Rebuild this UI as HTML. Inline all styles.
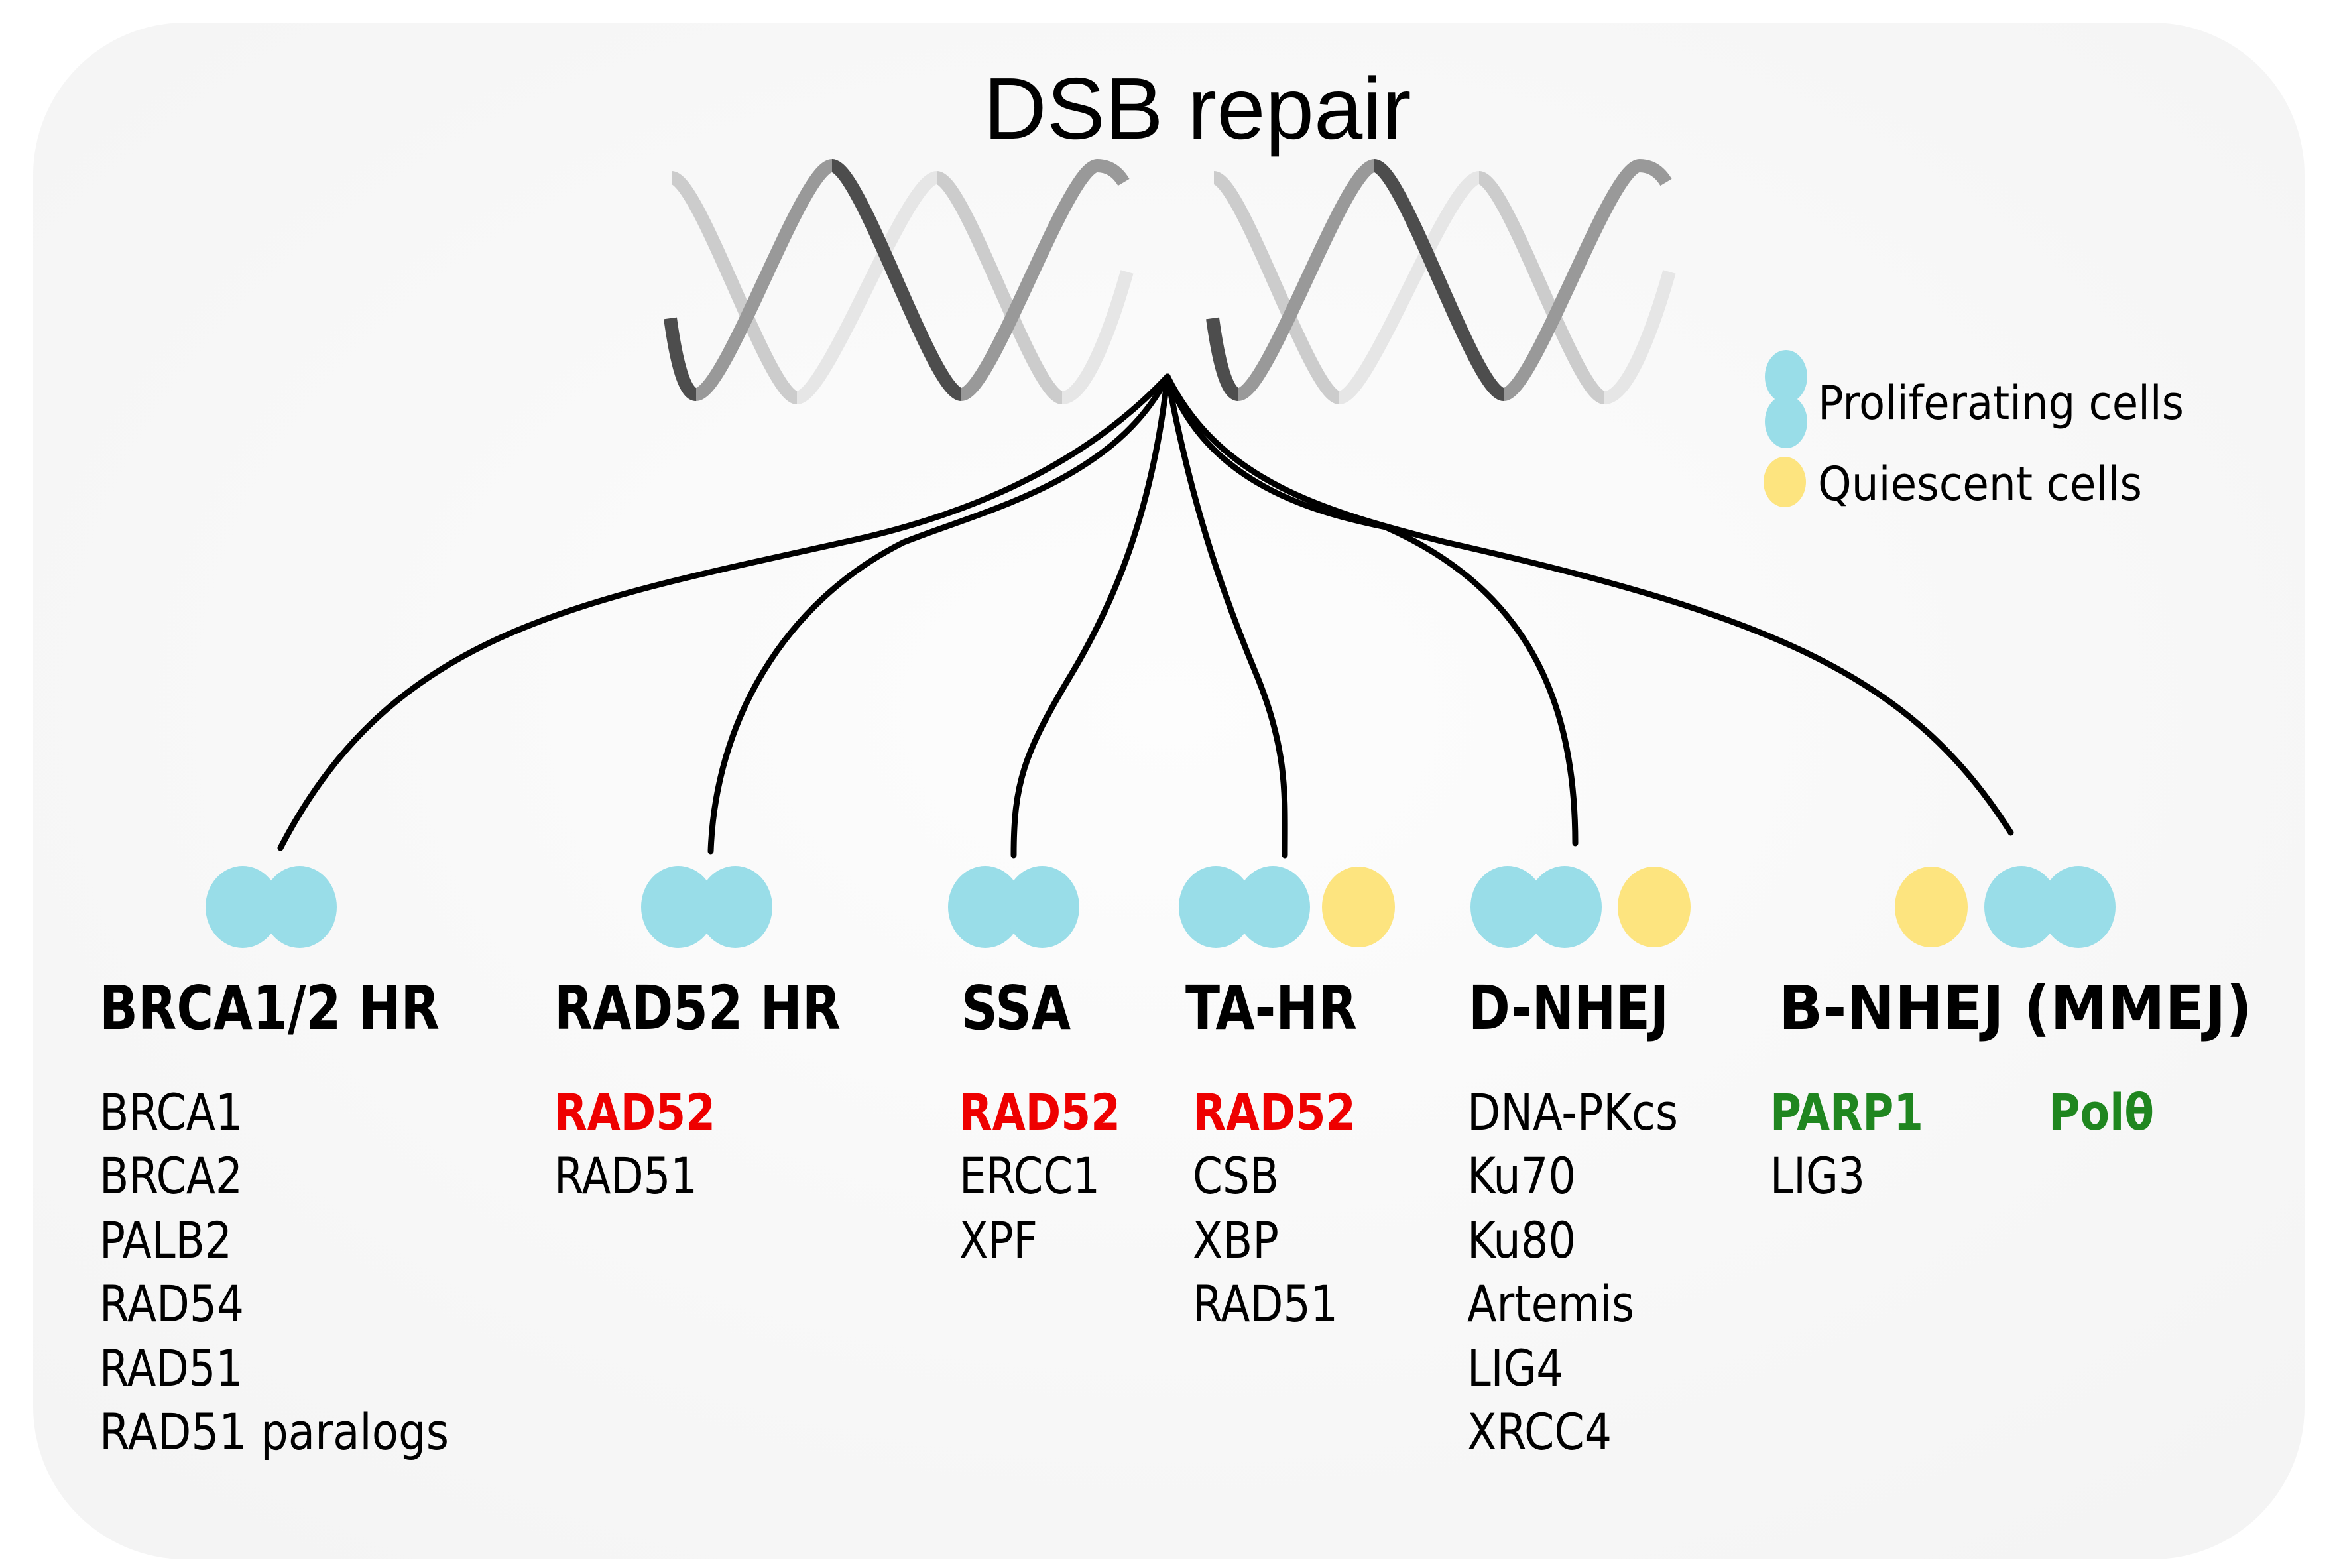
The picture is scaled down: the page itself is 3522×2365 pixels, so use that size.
<!DOCTYPE html>
<html><head><meta charset="utf-8"><style>
html,body{margin:0;padding:0;background:#fff;}
svg{display:block;}
</style></head><body>
<svg width="3522" height="2365" viewBox="0 0 3522 2365" xmlns="http://www.w3.org/2000/svg">
<defs>
<radialGradient id="bg" cx="0.5" cy="0.45" r="0.7">
<stop offset="0" stop-color="#fdfdfd"/><stop offset="1" stop-color="#f4f4f4"/>
</radialGradient>
<g id="helix" fill="none" stroke-width="20" stroke-linecap="butt">
<path d="M1013,268 C1055,268 1160,600 1202,600" stroke="#cccccc"/>
<path d="M1202,600 C1248,600 1367,268 1413,268" stroke="#e6e6e6"/>
<path d="M1413,268 C1455,268 1560,600 1602,600" stroke="#cccccc"/>
<path d="M1602,600 C1640,600 1680,480 1700,410" stroke="#e6e6e6"/>
<path d="M1050,595 C1095,595 1210,250 1255,250" stroke="#999999"/>
<path d="M1450,595 C1495,595 1610,250 1655,250" stroke="#999999"/>
<path d="M1655,250 Q1680,250 1695,275" stroke="#999999"/>
<path d="M1011,480 C1022,560 1035,595 1050,595" stroke="#4d4d4d"/>
<path d="M1255,250 C1298,250 1407,595 1450,595" stroke="#4d4d4d"/>
</g>
</defs>
<rect x="0" y="0" width="3522" height="2365" fill="#ffffff"/>
<rect x="50" y="34" width="3426" height="2318" rx="230" ry="230" fill="url(#bg)"/>

<text x="1806" y="209" font-family="Liberation Sans, Arial, sans-serif" font-size="132" text-anchor="middle" fill="#000" textLength="645" lengthAdjust="spacingAndGlyphs">DSB repair</text>

<use href="#helix"/>
<use href="#helix" transform="translate(818,0)"/>

<g fill="none" stroke="#000" stroke-width="9" stroke-linecap="round">
<path d="M1761,568 Q1590,750 1272,818 C863,909 591,954 423,1279"/>
<path d="M1761,568 C1681,727 1477,772 1363,818 C1181,909 1079,1090 1072,1284"/>
<path d="M1761,568 C1738,772 1681,909 1613,1022 C1545,1136 1529,1181 1529,1290"/>
<path d="M1761,568 C1795,750 1840,886 1897,1022 C1943,1136 1938,1204 1938,1290"/>
<path d="M1761,568 C1818,727 1977,772 2090,795 C2295,886 2376,1045 2376,1272"/>
<path d="M1761,568 C1840,727 2000,772 2181,818 C2681,931 2885,1022 3033,1256"/>
</g>

<g fill="#99dde8">
<ellipse cx="366" cy="1368" rx="56" ry="62"/><ellipse cx="452" cy="1368" rx="56" ry="62"/>
<ellipse cx="1023" cy="1368" rx="56" ry="62"/><ellipse cx="1109" cy="1368" rx="56" ry="62"/>
<ellipse cx="1486" cy="1368" rx="56" ry="62"/><ellipse cx="1572" cy="1368" rx="56" ry="62"/>
<ellipse cx="1834" cy="1368" rx="56" ry="62"/><ellipse cx="1920" cy="1368" rx="56" ry="62"/>
<ellipse cx="2274" cy="1368" rx="56" ry="62"/><ellipse cx="2360" cy="1368" rx="56" ry="62"/>
<ellipse cx="3049" cy="1368" rx="56" ry="62"/><ellipse cx="3135" cy="1368" rx="56" ry="62"/>
<ellipse cx="2694" cy="568" rx="32" ry="40"/><ellipse cx="2694" cy="636" rx="32" ry="40"/>
</g>
<g fill="#fde47f">
<ellipse cx="2049" cy="1368" rx="55" ry="61"/>
<ellipse cx="2495" cy="1368" rx="55" ry="61"/>
<ellipse cx="2913" cy="1368" rx="55" ry="61"/>
<ellipse cx="2692" cy="727" rx="32" ry="38"/>
</g>

<g font-family="DejaVu Sans Condensed, DejaVu Sans, sans-serif" font-size="70" fill="#000">
<text x="2742" y="632" textLength="552" lengthAdjust="spacingAndGlyphs">Proliferating cells</text>
<text x="2742" y="754" textLength="489" lengthAdjust="spacingAndGlyphs">Quiescent cells</text>
</g>

<g font-family="DejaVu Sans Condensed, DejaVu Sans, sans-serif" font-size="92" font-weight="bold" fill="#000">
<text x="150" y="1552" textLength="513" lengthAdjust="spacingAndGlyphs">BRCA1/2 HR</text>
<text x="836" y="1552" textLength="432" lengthAdjust="spacingAndGlyphs">RAD52 HR</text>
<text x="1450" y="1552" textLength="165" lengthAdjust="spacingAndGlyphs">SSA</text>
<text x="1788" y="1552" textLength="259" lengthAdjust="spacingAndGlyphs">TA-HR</text>
<text x="2215" y="1552" textLength="302" lengthAdjust="spacingAndGlyphs">D-NHEJ</text>
<text x="2683" y="1552" textLength="714" lengthAdjust="spacingAndGlyphs">B-NHEJ (MMEJ)</text>
</g>

<g font-family="DejaVu Sans Condensed, DejaVu Sans, sans-serif" font-size="76" fill="#000">
<text x="150" y="1704" textLength="216" lengthAdjust="spacingAndGlyphs">BRCA1</text>
<text x="150" y="1800" textLength="216" lengthAdjust="spacingAndGlyphs">BRCA2</text>
<text x="150" y="1897" textLength="200" lengthAdjust="spacingAndGlyphs">PALB2</text>
<text x="150" y="1993" textLength="218" lengthAdjust="spacingAndGlyphs">RAD54</text>
<text x="150" y="2090" textLength="216" lengthAdjust="spacingAndGlyphs">RAD51</text>
<text x="150" y="2186" textLength="527" lengthAdjust="spacingAndGlyphs">RAD51 paralogs</text>

<text x="836" y="1704" textLength="243" lengthAdjust="spacingAndGlyphs" fill="#ee0000" font-weight="bold">RAD52</text>
<text x="836" y="1800" textLength="216" lengthAdjust="spacingAndGlyphs">RAD51</text>

<text x="1447" y="1704" textLength="243" lengthAdjust="spacingAndGlyphs" fill="#ee0000" font-weight="bold">RAD52</text>
<text x="1447" y="1800" textLength="212" lengthAdjust="spacingAndGlyphs">ERCC1</text>
<text x="1447" y="1897" textLength="118" lengthAdjust="spacingAndGlyphs">XPF</text>

<text x="1799" y="1704" textLength="246" lengthAdjust="spacingAndGlyphs" fill="#ee0000" font-weight="bold">RAD52</text>
<text x="1799" y="1800" textLength="130" lengthAdjust="spacingAndGlyphs">CSB</text>
<text x="1799" y="1897" textLength="130" lengthAdjust="spacingAndGlyphs">XBP</text>
<text x="1799" y="1993" textLength="219" lengthAdjust="spacingAndGlyphs">RAD51</text>

<text x="2213" y="1704" textLength="318" lengthAdjust="spacingAndGlyphs">DNA-PKcs</text>
<text x="2213" y="1800" textLength="164" lengthAdjust="spacingAndGlyphs">Ku70</text>
<text x="2213" y="1897" textLength="164" lengthAdjust="spacingAndGlyphs">Ku80</text>
<text x="2213" y="1993" textLength="252" lengthAdjust="spacingAndGlyphs">Artemis</text>
<text x="2213" y="2090" textLength="145" lengthAdjust="spacingAndGlyphs">LIG4</text>
<text x="2213" y="2186" textLength="218" lengthAdjust="spacingAndGlyphs">XRCC4</text>

<text x="2670" y="1704" textLength="231" lengthAdjust="spacingAndGlyphs" fill="#1f861f" font-weight="bold">PARP1</text>
<text x="2670" y="1800" textLength="143" lengthAdjust="spacingAndGlyphs">LIG3</text>
<text x="3090" y="1704" textLength="159" lengthAdjust="spacingAndGlyphs" fill="#1f861f" font-weight="bold">Polθ</text>
</g>
</svg>
</body></html>
